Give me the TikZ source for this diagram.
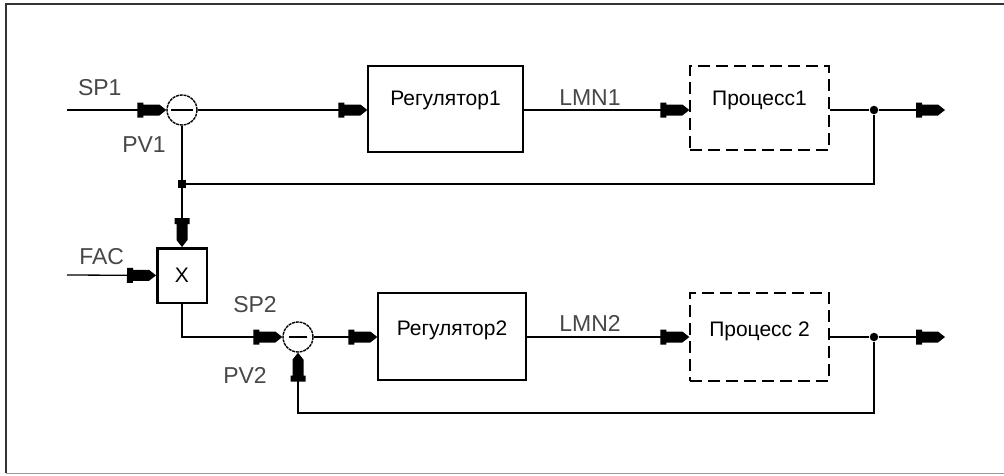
\documentclass[tikz,border=0pt]{standalone}
\usepackage{fontspec}
\setmainfont{Liberation Sans}
\usetikzlibrary{arrows.meta}
\newcommand\liftbox[2]{\raisebox{#1}[\height][\depth]{#2}}
\pgfdeclarearrow{
  name=BlockTip,
  setup code={
    \pgfarrowssettipend{0pt}
    \pgfarrowssetlineend{-20pt}
    \pgfarrowssetbackend{-29pt}
    \pgfarrowshullpoint{0pt}{0pt}
    \pgfarrowshullpoint{-29pt}{7.5pt}
    \pgfarrowshullpoint{-29pt}{-7.5pt}
  },
  drawing code={
    \pgfpathmoveto{\pgfqpoint{0pt}{0pt}}
    \pgfpathlineto{\pgfqpoint{-7pt}{5.5pt}}
    \pgfpathlineto{\pgfqpoint{-23pt}{5.5pt}}
    \pgfpathlineto{\pgfqpoint{-23pt}{7.5pt}}
    \pgfpathlineto{\pgfqpoint{-29pt}{7.5pt}}
    \pgfpathlineto{\pgfqpoint{-29pt}{-7.5pt}}
    \pgfpathlineto{\pgfqpoint{-23pt}{-7.5pt}}
    \pgfpathlineto{\pgfqpoint{-23pt}{-5.5pt}}
    \pgfpathlineto{\pgfqpoint{-7pt}{-5.5pt}}
    \pgfpathclose
    \pgfusepathqfill
  },
}
\begin{document}
\begin{tikzpicture}[x=1pt,y=-1pt,
  line width=1.3pt,
  arr/.style={-BlockTip},
  blk/.style={draw, rectangle, inner sep=0pt, font=\fontsize{21}{24}\selectfont},
  proc/.style={blk, dash pattern=on 12pt off 6pt},
  sumn/.style={draw, circle, minimum size=30pt, inner sep=0pt, dash pattern=on 3pt off 0.8pt, line width=1.4pt},
  lbl/.style={text=black!72, font=\fontsize{23}{26}\selectfont, inner sep=0pt},
  dot/.style={circle, fill, inner sep=0pt, minimum size=8.5pt},
  frame/.style={draw=black!80, line width=2.2pt}]
\useasboundingbox (0,0) rectangle (1004,475);
\clip (0,0) rectangle (1004,475);
% frame
\draw[frame] (1010,4) -- (6,4) -- (6,473);
\draw[black!40, line width=1.5pt] (6,473.5) -- (1010,473.5);
% nodes, loop 1
\node[sumn] (s1) at (182,110) {};
\draw[line width=1.3pt] ([xshift=-11pt]s1.center) -- ([xshift=11pt]s1.center);
\node[blk, minimum width=155pt, minimum height=86pt] (r1) at (445.5,109) {\liftbox{9pt}{Регулятор1}};
\node[proc, minimum width=139pt, minimum height=84pt] (p1) at (759.5,108) {\liftbox{8pt}{Процесс1}};
\node[dot] (j1) at (874,110) {};
\coordinate (o1) at (945,110);
\coordinate (sp1) at (67,110);
\node[dot, rectangle, minimum size=7.5pt] (d1) at (182,184) {};
% multiplier
\node[blk, line width=2.5pt, minimum width=49.5pt, minimum height=54.5pt, font=\fontsize{21}{24}\selectfont] (xm) at (182,275.5) {X};
\coordinate (fac) at (67,275);
% loop 2
\node[sumn] (s2) at (298,337) {};
\draw[line width=1.3pt] ([xshift=-9pt]s2.center) -- ([xshift=9pt]s2.center);
\node[blk, minimum width=148pt, minimum height=87pt] (r2) at (452,336.5) {\liftbox{6.5pt}{Регулятор2}};
\node[proc, minimum width=139pt, minimum height=88pt] (p2) at (759.5,337) {\liftbox{5.3pt}{Процесс 2}};
\node[dot] (j2) at (874,337) {};
\coordinate (o2) at (945,337);
\coordinate (fb2) at (298,413);
% labels
\node[lbl, anchor=base] (pv1) at (144,152) {PV1};
\node[lbl, anchor=base] (sp2) at (255,312) {SP2};
\node[lbl, anchor=base] (pv2) at (245,383) {PV2};
% connectors loop 1
\draw[arr] (sp1) -- (s1) node[lbl, pos=0.33, anchor=base, yshift=15pt] {SP1};
\draw[arr] (s1) -- (r1.west |- s1);
\draw[arr] (r1.east |- s1) -- (p1.west |- s1) node[lbl, pos=0.4, anchor=base, yshift=5pt] {LMN1};
\draw (p1.east |- s1) -- (j1);
\draw[arr] (j1) -- (o1);
\draw (j1) |- (d1);
\draw[arr] (s1) -- (xm);
% multiplier connectors
\draw[arr] (fac) -- (xm) node[lbl, pos=0.39, anchor=base, yshift=11pt] {FAC};
\draw[arr] (xm) |- (s2);
% connectors loop 2
\draw[arr] (s2) -- (r2.west |- s2);
\draw[arr] (r2.east |- s2) -- (p2.west |- s2) node[lbl, pos=0.39, anchor=base, yshift=5.3pt] {LMN2};
\draw (p2.east |- s2) -- (j2);
\draw[arr] (j2) -- (o2);
\draw[arr] (j2) |- (fb2) -- (s2);
\end{tikzpicture}
\end{document}
